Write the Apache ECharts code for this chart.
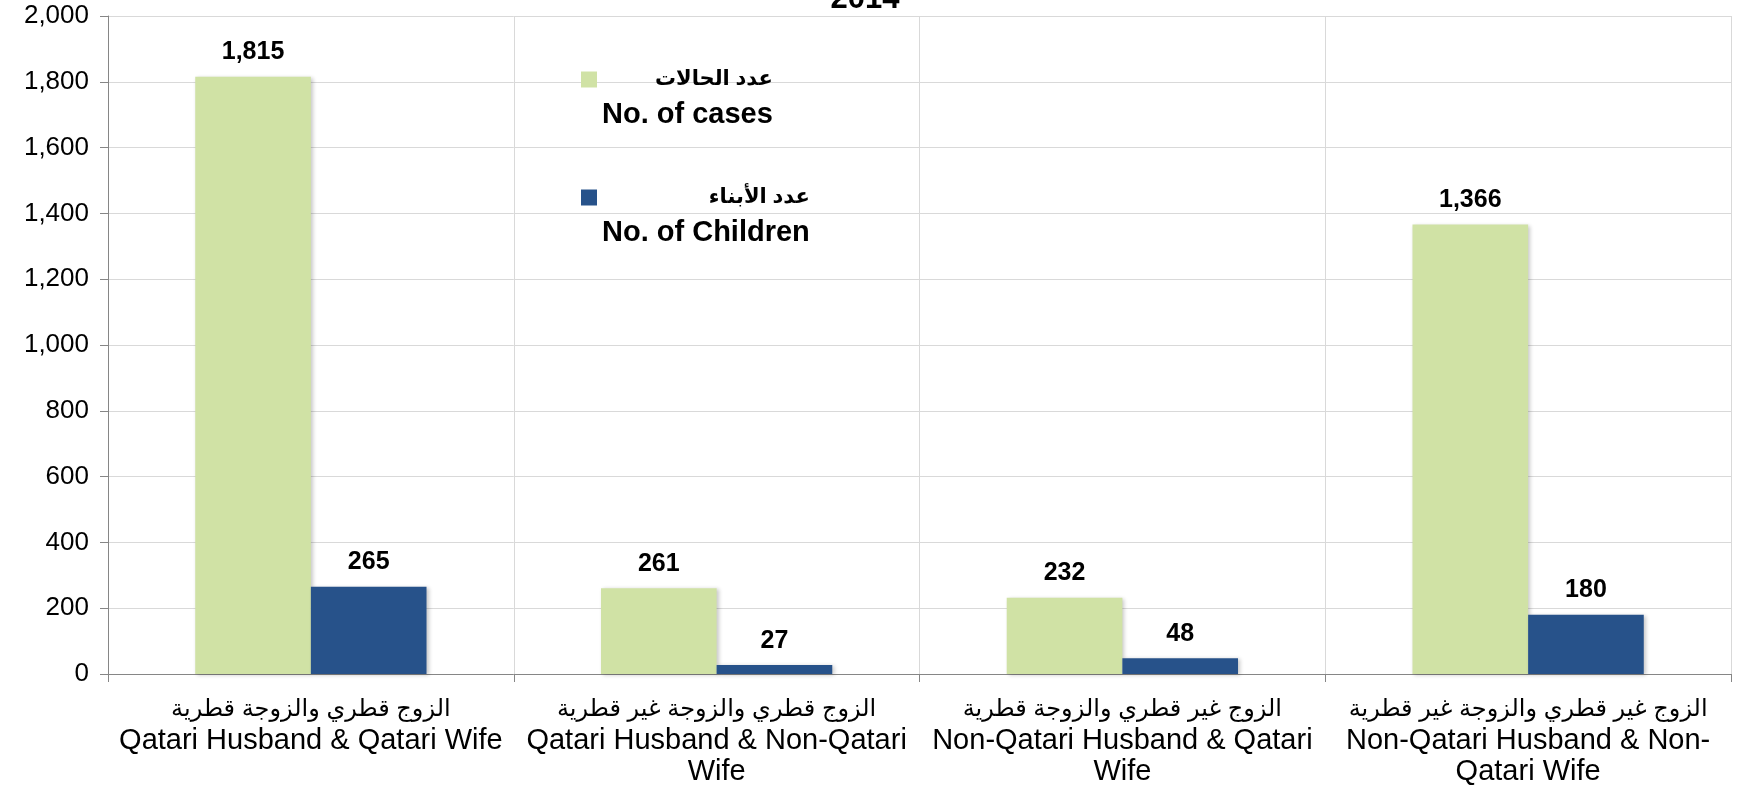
<!DOCTYPE html>
<html>
<head>
<meta charset="utf-8">
<title>2014</title>
<script src="https://cdn.jsdelivr.net/npm/echarts@6/dist/echarts.min.js"></script>
<style>
  html, body { margin: 0; padding: 0; background: #fff; }
  #chart { width: 1737px; height: 793px; }
</style>
</head>
<body>
<div id="chart"></div>
<script>
// categories (Arabic line + English lines)
var categoriesAr = [
  "الزوج قطري والزوجة قطرية",
  "الزوج قطري والزوجة غير قطرية",
  "الزوج غير قطري والزوجة قطرية",
  "الزوج غير قطري والزوجة غير قطرية"
];
var categoriesEn = [
  "Qatari Husband & Qatari Wife",
  "Qatari Husband & Non-Qatari\nWife",
  "Non-Qatari Husband & Qatari\nWife",
  "Non-Qatari Husband & Non-\nQatari Wife"
];
var casesData = [1815, 261, 232, 1366];
var childrenData = [265, 27, 48, 180];

var seriesNamesAr = ["عدد الحالات", "عدد الأبناء"];
var seriesNamesEn = ["No. of cases", "No. of Children"];

var FONT = "'Liberation Sans', Arial, 'DejaVu Sans', sans-serif";

var categories = categoriesAr.map(function (ar, i) {
  return ar + "\n" + categoriesEn[i];
});

function fmt(v) {
  return Number(v).toLocaleString("en-US");
}

var chart = echarts.init(document.getElementById("chart"));

var labelStyle = {
  show: true,
  position: "top",
  distance: 12,
  color: "#000",
  fontFamily: FONT,
  fontWeight: "bold",
  fontSize: 25,
  formatter: function (p) { return fmt(p.value); }
};

var option = {
  animation: false,
  backgroundColor: "#fff",
  title: {
    text: "2014",
    left: 860,
    textAlign: "center",
    top: -21,
    textStyle: { fontFamily: FONT, fontWeight: "bold", fontSize: 31, color: "#000" }
  },
  legend: {
    orient: "vertical",
    left: 581,
    top: 30,
    padding: 0,
    itemWidth: 16,
    itemHeight: 16,
    itemGap: 19,
    selectedMode: false,
    icon: "rect",
    data: seriesNamesEn,
    formatter: function (name) {
      var i = seriesNamesEn.indexOf(name);
      return "{pad| }\n{ar|" + seriesNamesAr[i] + "}\n{en|" + name + "}";
    },
    textStyle: {
      fontFamily: FONT,
      fontWeight: "bold",
      fontSize: 29,
      color: "#000",
      rich: {
        pad: { lineHeight: 35, fontSize: 29 },
        ar: { align: "right", lineHeight: 35, fontSize: 21, fontWeight: "bold", fontFamily: FONT, color: "#000" },
        en: { lineHeight: 35, fontSize: 29, fontWeight: "bold", fontFamily: FONT, color: "#000" }
      }
    }
  },
  grid: {
    left: 108,
    right: 6,
    top: 16,
    bottom: 119,
    containLabel: false
  },
  xAxis: {
    type: "category",
    data: categories,
    axisLine: { lineStyle: { color: "#868686", width: 1 } },
    axisTick: { show: true, length: 8, lineStyle: { color: "#868686" } },
    splitLine: { show: true, lineStyle: { color: "#d9d9d9", width: 1 } },
    axisLabel: {
      interval: 0,
      margin: 20,
      color: "#000",
      fontFamily: FONT,
      fontSize: 29,
      lineHeight: 31,
      align: "center",
      formatter: function (value) {
        var lines = value.split("\n");
        return lines.map(function (l, k) {
          return (k === 0 ? "{ar|" : "{en|") + l + "}";
        }).join("\n");
      },
      rich: {
        ar: { fontSize: 24, lineHeight: 31, fontFamily: FONT, color: "#000" },
        en: { fontSize: 29, lineHeight: 31, fontFamily: FONT, color: "#000" }
      }
    }
  },
  yAxis: {
    type: "value",
    min: 0,
    max: 2000,
    interval: 200,
    axisLine: { show: true, lineStyle: { color: "#868686", width: 1 } },
    axisTick: { show: true, length: 8, lineStyle: { color: "#868686" } },
    splitLine: { show: true, lineStyle: { color: "#d9d9d9", width: 1 } },
    axisLabel: {
      margin: 19,
      color: "#000",
      fontFamily: FONT,
      fontSize: 26,
      formatter: fmt
    }
  },
  series: [
    {
      name: seriesNamesEn[0],
      type: "bar",
      data: casesData,
      barGap: "0%",
      barCategoryGap: "43%",
      itemStyle: {
        color: "#d0e2a5",
        shadowBlur: 4,
        shadowColor: "rgba(0,0,0,0.22)",
        shadowOffsetX: 2,
        shadowOffsetY: 1
      },
      label: labelStyle
    },
    {
      name: seriesNamesEn[1],
      type: "bar",
      data: childrenData,
      barGap: "0%",
      barCategoryGap: "43%",
      itemStyle: {
        color: "#27528a",
        shadowBlur: 4,
        shadowColor: "rgba(0,0,0,0.22)",
        shadowOffsetX: 2,
        shadowOffsetY: 1
      },
      label: labelStyle
    }
  ]
};

chart.setOption(option);
window.addEventListener("resize", function () {
  chart.resize();
});
</script>
</body>
</html>
